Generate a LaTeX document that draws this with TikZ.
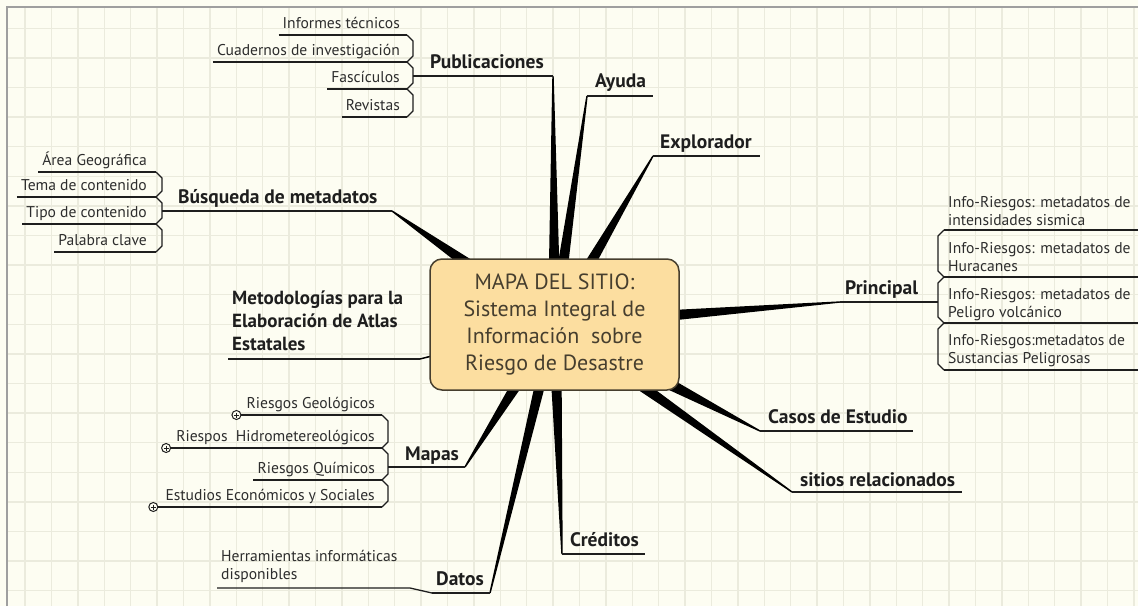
\documentclass[tikz,border=0pt]{standalone}
\usepackage{fontspec}
\setmainfont{PT Sans}
\usetikzlibrary{calc}

\definecolor{paper}{RGB}{253,253,242}
\definecolor{gridline}{RGB}{235,235,221}
\definecolor{hubfill}{RGB}{252,222,160}
\definecolor{hubtext}{RGB}{70,62,46}
\definecolor{ink}{RGB}{30,30,30}
\definecolor{leafink}{RGB}{45,45,45}

\begin{document}
\begin{tikzpicture}[
  x=1pt, y=-1pt,
  hub/.style={draw=hubtext, line width=1.5pt, fill=hubfill,
              rounded corners=12pt, minimum width=249pt, minimum height=131pt,
              align=center, text=hubtext, inner sep=0pt,
              font=\fontsize{22}{26.7}\selectfont},
  topic/.style={text=ink, inner sep=0pt, font=\fontsize{19.5}{23}\selectfont\bfseries},
  leaf/.style={text=leafink, inner sep=0pt, font=\fontsize{15.6}{18}\selectfont},
  uline/.style={draw=ink, line width=1.3pt},
  bracket/.style={draw=ink, line width=1.3pt, line join=miter},
  stub/.style={draw=ink, line width=2.6pt},
  spoke/.style={fill=black},
  expander/.style={circle, draw=ink, line width=1pt, fill=paper,
                   minimum size=9pt, inner sep=0pt,
                   path picture={\draw[line width=0.8pt]
                     ($(path picture bounding box.center)+(-2.5,0)$) -- ($(path picture bounding box.center)+(2.5,0)$)
                     ($(path picture bounding box.center)+(0,-2.5)$) -- ($(path picture bounding box.center)+(0,2.5)$);}},
]
\useasboundingbox (0,0) rectangle (1138,606);

% ── Paper and grid ────────────────────────────────────────────────────────────
\fill[paper] (0,0) rectangle (1138,606);
\foreach \gx in {0,...,42}
  \draw[gridline, line width=1.4pt] ({25+26.4*\gx},7) -- ({25+26.4*\gx},606);
\foreach \gy in {0,...,19}
  \draw[gridline, line width=1.4pt] (7,{28.3+29.6*\gy}) -- (1138,{28.3+29.6*\gy});
\draw[gray!75, line width=1.5pt] (7,606) -- (7,7) -- (1138,7);

% ── Branch end points ─────────────────────────────────────────────────────────
\coordinate (hubc) at (554.5,324.5);
\coordinate (pubL) at (413,76);  \coordinate (pubR) at (553,76);
\coordinate (ayuL) at (587,96);  \coordinate (ayuR) at (653,96);
\coordinate (expL) at (653,156); \coordinate (expR) at (760,156);
\coordinate (busL) at (162,211); \coordinate (busR) at (392,211);
\coordinate (priL) at (840,302); \coordinate (priR) at (938,302);
\coordinate (metL) at (228,359); \coordinate (metR) at (420,359);
\coordinate (mapL) at (388,467); \coordinate (mapR) at (465,467);
\coordinate (casL) at (760,431); \coordinate (casR) at (913,431);
\coordinate (sitL) at (792,492); \coordinate (sitR) at (962,492);
\coordinate (creL) at (562,554); \coordinate (creR) at (645,554);
\coordinate (datL) at (432,593); \coordinate (datR) at (490,593);

% ── Tapered spokes ────────────────────────────────────────────────────────────
\foreach \tip/\w in {pubR/6.6pt, ayuL/6.8pt, expL/7.8pt, busR/10.9pt, priL/8.4pt,
                     casL/11.7pt, sitL/7.8pt, creL/6.8pt, datR/6.4pt, mapR/8.7pt, metR/2pt}
  \fill[spoke] ($(hubc)!\w!90:(\tip)$) -- ($(\tip)!0.7pt!-90:(hubc)$)
            -- ($(\tip)!0.7pt!90:(hubc)$) -- ($(hubc)!\w!-90:(\tip)$) -- cycle;

% ── Central topic ─────────────────────────────────────────────────────────────
\node[hub] (hub) at (hubc) {MAPA DEL SITIO:\\ Sistema Integral de\\ Información\ \ sobre\\ Riesgo de Desastre};

% ── Publicaciones ─────────────────────────────────────────────────────────────
\node[topic, anchor=base west] (pub) at (430,68) {Publicaciones};
\draw[uline] (pubL) -- (pubR);
\draw[stub] (pubL) -- ++(13,0);
\node[leaf, anchor=base east] (pub1) at (400,28)  {Informes técnicos};
\node[leaf, anchor=base east] (pub2) at (400,55)  {Cuadernos de investigación};
\node[leaf, anchor=base east] (pub3) at (400,82)  {Fascículos};
\node[leaf, anchor=base east] (pub4) at (400,110) {Revistas};
\foreach \n in {pub1,pub2,pub3,pub4}
  \draw[uline] ($(\n.base west)+(-4,7)$) -- ($(\n.base east)+(7,7)$);
\draw[bracket] (407,35) -- (413,41) -- (413,56) -- (407,62) -- (413,68) -- (413,83)
            -- (407,89) -- (413,95) -- (413,111) -- (407,117);

% ── Ayuda, Explorador ─────────────────────────────────────────────────────────
\node[topic, anchor=base west] (ayu) at (595,87) {Ayuda};
\draw[uline] (ayuL) -- (ayuR);
\node[topic, anchor=base west] (exp) at (660,148) {Explorador};
\draw[uline] (expL) -- (expR);

% ── Búsqueda de metadatos ─────────────────────────────────────────────────────
\node[topic, anchor=base west] (bus) at (178,203) {Búsqueda de metadatos};
\draw[uline] (busL) -- (busR);
\draw[stub] (busL) -- ++(11,0);
\node[leaf, anchor=base east] (bus1) at (147,165) {Área Geográfica};
\node[leaf, anchor=base east] (bus2) at (147,190) {Tema de contenido};
\node[leaf, anchor=base east] (bus3) at (147,217) {Tipo de contenido};
\node[leaf, anchor=base east] (bus4) at (147,245) {Palabra clave};
\foreach \n in {bus1,bus2,bus3,bus4}
  \draw[uline] ($(\n.base west)+(-4,7)$) -- ($(\n.base east)+(9,7)$);
\draw[bracket] (156,172) -- (162,178) -- (162,191) -- (156,197) -- (162,203) -- (162,218)
            -- (156,224) -- (162,230) -- (162,246) -- (156,252);

% ── Principal ─────────────────────────────────────────────────────────────────
\node[topic, anchor=base west] (pri) at (845,294) {Principal};
\draw[uline] (priL) -- (priR);
\node[leaf, anchor=north west, align=left] (pri1) at (948,196) {Info-Riesgos: metadatos de\\intensidades sismica};
\node[leaf, anchor=north west, align=left] (pri2) at (948,242) {Info-Riesgos: metadatos de\\Huracanes};
\node[leaf, anchor=north west, align=left] (pri3) at (948,288) {Info-Riesgos: metadatos de\\Peligro volcánico};
\node[leaf, anchor=north west, align=left] (pri4) at (948,334) {Info-Riesgos:metadatos de\\Sustancias Peligrosas};
\foreach \y in {230,277,323,370}
  \draw[uline] (944,\y) -- (1138,\y);
\draw[bracket] (944,230) -- (938,236) -- (938,271) -- (944,277) -- (938,283) -- (938,317)
            -- (944,323) -- (938,329) -- (938,364) -- (944,370);

% ── Metodologías ──────────────────────────────────────────────────────────────
\node[topic, anchor=north west, align=left, font=\fontsize{19}{23}\selectfont\bfseries]
  (met) at (232,291) {Metodologías para la\\Elaboración de Atlas\\Estatales};
\draw[uline] (metL) -- (metR);

% ── Mapas ─────────────────────────────────────────────────────────────────────
\node[topic, anchor=base west] (map) at (405,460) {Mapas};
\draw[uline] (mapL) -- (mapR);
\draw[stub] (mapL) -- ++(10,0);
\node[leaf, anchor=base east] (map1) at (375,408) {Riesgos Geológicos};
\node[leaf, anchor=base east] (map2) at (375,441) {Riespos\ \ Hidrometereológicos};
\node[leaf, anchor=base east] (map3) at (375,473) {Riesgos Químicos};
\node[leaf, anchor=base east] (map4) at (375,500) {Estudios Económicos y Sociales};
\node[expander] (plus1) at ($(map1.base west)+(-10,7)$) {};
\node[expander] (plus2) at ($(map2.base west)+(-10,7)$) {};
\node[expander] (plus4) at ($(map4.base west)+(-12,7)$) {};
\draw[uline] (plus1.east) -- ($(map1.base east)+(7,7)$);
\draw[uline] (plus2.east) -- ($(map2.base east)+(7,7)$);
\draw[uline] ($(map3.base west)+(-4,7)$) -- ($(map3.base east)+(7,7)$);
\draw[uline] (plus4.east) -- ($(map4.base east)+(7,7)$);
\draw[bracket] (382,415) -- (388,421) -- (388,442) -- (382,448) -- (388,454) -- (388,474)
            -- (382,480) -- (388,486) -- (388,501) -- (382,507);

% ── Casos de Estudio, sitios relacionados, Créditos ───────────────────────────
\node[topic, anchor=base west] (cas) at (768,423) {Casos de Estudio};
\draw[uline] (casL) -- (casR);
\node[topic, anchor=base west] (sit) at (800,486) {sitios relacionados};
\draw[uline] (sitL) -- (sitR);
\node[topic, anchor=base west] (cre) at (570,546) {Créditos};
\draw[uline] (creL) -- (creR);

% ── Datos ─────────────────────────────────────────────────────────────────────
\node[topic, anchor=base west] (dat) at (436,585) {Datos};
\draw[uline] (datL) -- (datR);
\node[leaf, anchor=north west, align=left] (dat1) at (221,550) {Herramientas informáticas\\disponibles};
\draw[uline] (217,588) -- (410,588) -- (datL);

\end{tikzpicture}
\end{document}
